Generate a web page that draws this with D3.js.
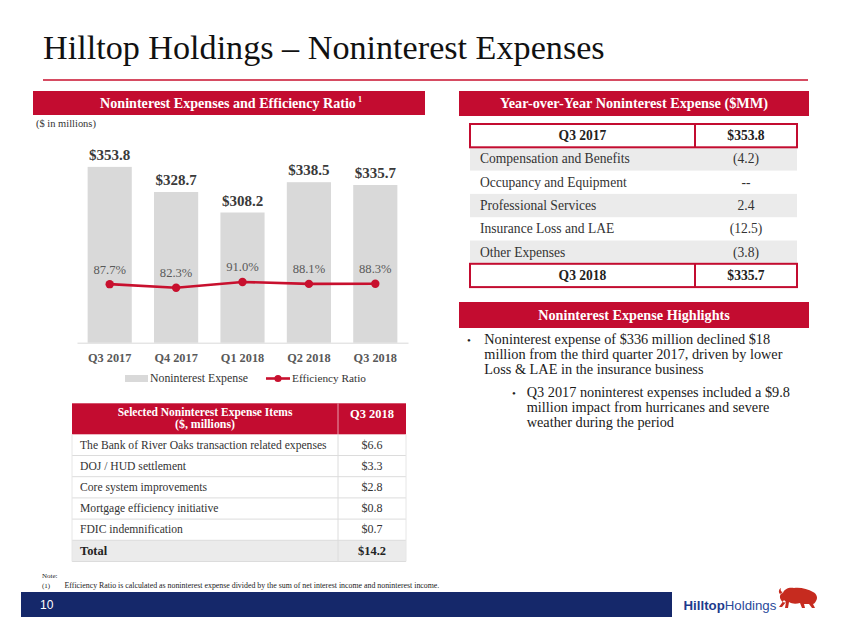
<!DOCTYPE html>
<html>
<head>
<meta charset="utf-8">
<script src="https://cdn.jsdelivr.net/npm/d3@7"></script>
<style>
  html, body { margin: 0; padding: 0; background: #ffffff; }
  svg { display: block; }
</style>
</head>
<body>
<svg id="chart" width="851" height="635"></svg>
<script>
// ---------- DATA ----------
const quarters = ["Q3 2017", "Q4 2017", "Q1 2018", "Q2 2018", "Q3 2018"];
const expense = [353.8, 328.7, 308.2, 338.5, 335.7];
const efficiency = [87.7, 82.3, 91.0, 88.1, 88.3];
const seriesNames = ["Noninterest Expense", "Efficiency Ratio"];

const yoyStart = ["Q3 2017", "$353.8"];
const yoyItems = ["Compensation and Benefits", "Occupancy and Equipment", "Professional Services", "Insurance Loss and LAE", "Other Expenses"];
const yoyValues = ["(4.2)", "--", "2.4", "(12.5)", "(3.8)"];
const yoyEnd = ["Q3 2018", "$335.7"];

const selHeader = ["Selected Noninterest Expense Items", "($, millions)", "Q3 2018"];
const selItems = ["The Bank of River Oaks transaction related expenses", "DOJ / HUD settlement", "Core system improvements", "Mortgage efficiency initiative", "FDIC indemnification"];
const selValues = ["$6.6", "$3.3", "$2.8", "$0.8", "$0.7"];
const selTotal = ["Total", "$14.2"];

const highlight1 = ["Noninterest expense of $336 million declined $18", "million from the third quarter 2017, driven by lower", "Loss & LAE in the insurance business"];
const highlight2 = ["Q3 2017 noninterest expenses included a $9.8", "million impact from hurricanes and severe", "weather during the period"];

// ---------- STYLE ----------
const SERIF = "'Liberation Serif', 'DejaVu Serif', serif";
const SANS = "'Liberation Sans', Roboto, 'DejaVu Sans', sans-serif";
const RED = "#c30c30";
const LINE_RED = "#c8102e";
const NAVY = "#15286a";
const GRAY_BAR = "#d9d9d9";
const ROW_GRAY = "#ebebeb";

const svg = d3.select("#chart");

function txt(g, x, y, s, o = {}) {
  const t = g.append("text")
    .attr("x", x).attr("y", y)
    .attr("font-family", o.family || SERIF)
    .attr("font-size", o.size || 12)
    .attr("font-weight", o.weight || "normal")
    .attr("fill", o.fill || "#333")
    .attr("text-anchor", o.anchor || "start")
    .text(s);
  if (o.fit) {
    const L = t.node().getComputedTextLength();
    if (L > 0) t.attr("font-size", (o.size || 12) * o.fit / L);
  }
  return t;
}
function fitSize(s, base, target, o = {}) {
  const t = txt(svg, -1000, -1000, s, Object.assign({}, o, { size: base }));
  const L = t.node().getComputedTextLength();
  t.remove();
  return base * target / L;
}

// ---------- TITLE ----------
txt(svg, 43, 59, "Hilltop Holdings \u2013 Noninterest Expenses", { size: 30, fill: "#111", fit: 562 });
svg.append("line").attr("x1", 43).attr("x2", 808).attr("y1", 80).attr("y2", 80)
  .attr("stroke", LINE_RED).attr("stroke-width", 1.6);

// ---------- LEFT HEADER ----------
svg.append("rect").attr("x", 33).attr("y", 91).attr("width", 392).attr("height", 24).attr("fill", RED);
txt(svg, 228, 108, "Noninterest Expenses and Efficiency Ratio", { size: 12.5, weight: "bold", fill: "#fff", anchor: "middle", fit: 256 });
txt(svg, 358, 102, "1", { size: 8, weight: "bold", fill: "#fff" });
txt(svg, 36, 127, "($ in millions)", { size: 9, fill: "#333", fit: 60 });

// ---------- BAR + LINE CHART ----------
const x = d3.scaleBand().domain(quarters).range([77, 408]).paddingInner(0.335).paddingOuter(0.16);
const y = d3.scaleLinear().domain([178, 374.5]).range([342.7, 146.2]);
const y2 = d3.scaleLinear().domain([0, 300]).range([341.6, 145.1]);

const chart = svg.append("g");
chart.selectAll("rect.bar").data(expense).join("rect")
  .attr("class", "bar")
  .attr("x", (d, i) => x(quarters[i]))
  .attr("width", x.bandwidth())
  .attr("y", d => y(d))
  .attr("height", d => y(y.domain()[0]) - y(d))
  .attr("fill", GRAY_BAR);

chart.selectAll("text.val").data(expense).join("text")
  .attr("class", "val")
  .attr("x", (d, i) => x(quarters[i]) + x.bandwidth() / 2)
  .attr("y", d => y(d) - 7)
  .attr("text-anchor", "middle")
  .attr("font-family", SERIF).attr("font-size", 15).attr("font-weight", "bold")
  .attr("fill", "#3a3a3a")
  .text(d => "$" + d.toFixed(1));

// x axis
const xAxis = d3.axisBottom(x).tickSize(0).tickPadding(10);
const xg = chart.append("g").attr("transform", `translate(0,${y(y.domain()[0])})`).call(xAxis);
xg.select(".domain").attr("stroke", "#d9d9d9").attr("stroke-width", 1);
xg.selectAll("text").attr("font-family", SERIF).attr("font-size", 12.3).attr("font-weight", "bold").attr("fill", "#595959")
  .attr("dy", "0.75em");

// efficiency line
const line = d3.line().x((d, i) => x(quarters[i]) + x.bandwidth() / 2).y(d => y2(d));
chart.append("path").datum(efficiency).attr("d", line)
  .attr("fill", "none").attr("stroke", LINE_RED).attr("stroke-width", 2.6);
chart.selectAll("circle.pt").data(efficiency).join("circle")
  .attr("class", "pt")
  .attr("cx", (d, i) => x(quarters[i]) + x.bandwidth() / 2)
  .attr("cy", d => y2(d))
  .attr("r", 4.2).attr("fill", LINE_RED);
chart.selectAll("text.pct").data(efficiency).join("text")
  .attr("class", "pct")
  .attr("x", (d, i) => x(quarters[i]) + x.bandwidth() / 2)
  .attr("y", d => y2(d) - 10.5)
  .attr("text-anchor", "middle")
  .attr("font-family", SERIF).attr("font-size", 12.6)
  .attr("fill", "#595959")
  .text(d => d.toFixed(1) + "%");

// legend
const lg = svg.append("g");
lg.append("rect").attr("x", 125).attr("y", 375).attr("width", 23).attr("height", 7).attr("fill", GRAY_BAR);
txt(lg, 150, 382, seriesNames[0], { size: 11, fill: "#333", fit: 98 });
lg.append("line").attr("x1", 266).attr("x2", 290).attr("y1", 378.5).attr("y2", 378.5).attr("stroke", LINE_RED).attr("stroke-width", 2.6);
lg.append("circle").attr("cx", 278).attr("cy", 378.5).attr("r", 3.6).attr("fill", LINE_RED);
txt(lg, 292, 382, seriesNames[1], { size: 11, fill: "#333", fit: 74 });

// ---------- RIGHT: YOY TABLE ----------
svg.append("rect").attr("x", 459).attr("y", 91).attr("width", 350).attr("height", 25).attr("fill", RED);
txt(svg, 634, 108, "Year-over-Year Noninterest Expense ($MM)", { size: 12.5, weight: "bold", fill: "#fff", anchor: "middle", fit: 268 });

const tX0 = 470, tX1 = 797, tDiv = 695, tTop = 124, tRow = 23.3;
const labelCx = (tX0 + tDiv) / 2, valCx = (tDiv + tX1) / 2;
const rowSize = fitSize(yoyItems[0], 12, 150);
const yoy = svg.append("g");
// item rows
yoyItems.forEach((item, i) => {
  const top = tTop + tRow * (i + 1);
  if (i % 2 === 0) yoy.append("rect").attr("x", tX0).attr("y", top).attr("width", tX1 - tX0).attr("height", tRow).attr("fill", ROW_GRAY);
  txt(yoy, 480, top + 16, item, { size: rowSize, fill: "#333" });
  txt(yoy, valCx, top + 16, yoyValues[i], { size: rowSize, fill: "#333", anchor: "middle" });
});
// boxed rows
[[yoyStart, 0], [yoyEnd, 6]].forEach(([r, k]) => {
  const top = tTop + tRow * k;
  yoy.append("rect").attr("x", tX0).attr("y", top).attr("width", tX1 - tX0).attr("height", tRow)
    .attr("fill", "#fff").attr("stroke", RED).attr("stroke-width", 2);
  yoy.append("line").attr("x1", tDiv).attr("x2", tDiv).attr("y1", top).attr("y2", top + tRow).attr("stroke", RED).attr("stroke-width", 2);
  txt(yoy, labelCx, top + 16, r[0], { size: rowSize, weight: "bold", fill: "#222", anchor: "middle" });
  txt(yoy, valCx, top + 16, r[1], { size: rowSize, weight: "bold", fill: "#222", anchor: "middle" });
});

// ---------- HIGHLIGHTS ----------
svg.append("rect").attr("x", 459).attr("y", 302).attr("width", 350).attr("height", 26).attr("fill", RED);
txt(svg, 634, 319.5, "Noninterest Expense Highlights", { size: 12.5, weight: "bold", fill: "#fff", anchor: "middle", fit: 192 });

const hlSize = fitSize(highlight1[0], 14, 286);
txt(svg, 467, 344, "\u2022", { size: 11, fill: "#222" });
highlight1.forEach((s, i) => txt(svg, 484.3, 344.3 + i * 14.9, s, { size: hlSize, fill: "#1a1a1a" }));
txt(svg, 512, 396.5, "\u2022", { size: 11, fill: "#222" });
highlight2.forEach((s, i) => txt(svg, 526.7, 396.7 + i * 14.9, s, { size: hlSize, fill: "#1a1a1a" }));

// ---------- LEFT BOTTOM TABLE ----------
const sX0 = 72, sX1 = 406, sDiv = 338, sTop = 403.3, sHead = 31, sRow = 21.2;
const st = svg.append("g");
st.append("rect").attr("x", sX0).attr("y", sTop).attr("width", sX1 - sX0).attr("height", sHead).attr("fill", RED);
st.append("line").attr("x1", sDiv).attr("x2", sDiv).attr("y1", sTop).attr("y2", sTop + sHead).attr("stroke", "#e7a0ad").attr("stroke-width", 1);
txt(st, (sX0 + sDiv) / 2, 415.7, selHeader[0], { size: 10, weight: "bold", fill: "#fff", anchor: "middle", fit: 175 });
txt(st, (sX0 + sDiv) / 2, 427.7, selHeader[1], { size: 10, weight: "bold", fill: "#fff", anchor: "middle", fit: 60 });
txt(st, (sDiv + sX1) / 2, 418, selHeader[2], { size: 12, weight: "bold", fill: "#fff", anchor: "middle", fit: 44 });

const selSize = fitSize(selItems[0], 11, 247);
const bodyTop = sTop + sHead;
const nRows = selItems.length + 1;
st.append("rect").attr("x", sX0).attr("y", bodyTop + sRow * selItems.length).attr("width", sX1 - sX0).attr("height", sRow).attr("fill", ROW_GRAY);
selItems.forEach((item, i) => {
  const top = bodyTop + sRow * i;
  txt(st, 80, top + 14.2, item, { size: selSize, fill: "#333" });
  txt(st, (sDiv + sX1) / 2, top + 14.2, selValues[i], { size: selSize + 0.4, fill: "#333", anchor: "middle" });
});
{
  const top = bodyTop + sRow * selItems.length;
  txt(st, 80, top + 14.5, selTotal[0], { size: selSize + 0.8, weight: "bold", fill: "#222" });
  txt(st, (sDiv + sX1) / 2, top + 14.5, selTotal[1], { size: selSize + 0.8, weight: "bold", fill: "#222", anchor: "middle" });
}
// grid lines
for (let i = 1; i <= nRows; i++) {
  st.append("line").attr("x1", sX0).attr("x2", sX1).attr("y1", bodyTop + sRow * i).attr("y2", bodyTop + sRow * i)
    .attr("stroke", "#dcdcdc").attr("stroke-width", 1);
}
st.append("line").attr("x1", sDiv).attr("x2", sDiv).attr("y1", bodyTop).attr("y2", bodyTop + sRow * nRows).attr("stroke", "#dcdcdc");
st.append("line").attr("x1", sX0).attr("x2", sX0).attr("y1", bodyTop).attr("y2", bodyTop + sRow * nRows).attr("stroke", "#e6e6e6");
st.append("line").attr("x1", sX1).attr("x2", sX1).attr("y1", bodyTop).attr("y2", bodyTop + sRow * nRows).attr("stroke", "#e6e6e6");

// ---------- NOTE ----------
txt(svg, 42, 578, "Note:", { size: 7, fill: "#222" });
txt(svg, 42, 587.5, "(1)", { size: 7, fill: "#222" });
txt(svg, 64.5, 587.5, "Efficiency Ratio is calculated as noninterest expense divided by the sum of net interest income and noninterest income.", { size: 7, fill: "#222", fit: 375 });

// ---------- FOOTER ----------
svg.append("rect").attr("x", 21).attr("y", 592).attr("width", 651).attr("height", 25).attr("fill", NAVY);
txt(svg, 40, 609, "10", { family: SANS, size: 12, fill: "#fff" });

const logo = svg.append("g");
const lt = logo.append("text").attr("x", 683.5).attr("y", 610).attr("font-family", SANS).attr("font-size", 15).attr("fill", "#1d3a8c");
lt.append("tspan").attr("font-weight", "bold").text("Hilltop");
lt.append("tspan").attr("fill", "#2a4a9a").text("Holdings");
{
  const L = lt.node().getComputedTextLength();
  lt.attr("font-size", 15 * 93 / L);
}
logo.append("path")
  .attr("transform", "translate(778,587)")
  .attr("fill", "#c62b1f")
  .attr("d", "M3,13 C1,10 2,6 5,6 C6,2 11,0 16,1 C22,0 30,2 35,5 C39,7 40,11 38,14 C37,16 36,17 35,17 L37,21 L34,21 L31,17 L26,17 L27,21 L24,21 L22,16 C18,17 14,17 11,15 L10,21 L7,21 L8,15 C6,16 4,15 3,13 Z M2,7 C0,5 1,2 3,1 C2,3 3,5 5,5 Z M6,13 L1,20 L4,20 L8,15 Z");
</script>
</body>
</html>
